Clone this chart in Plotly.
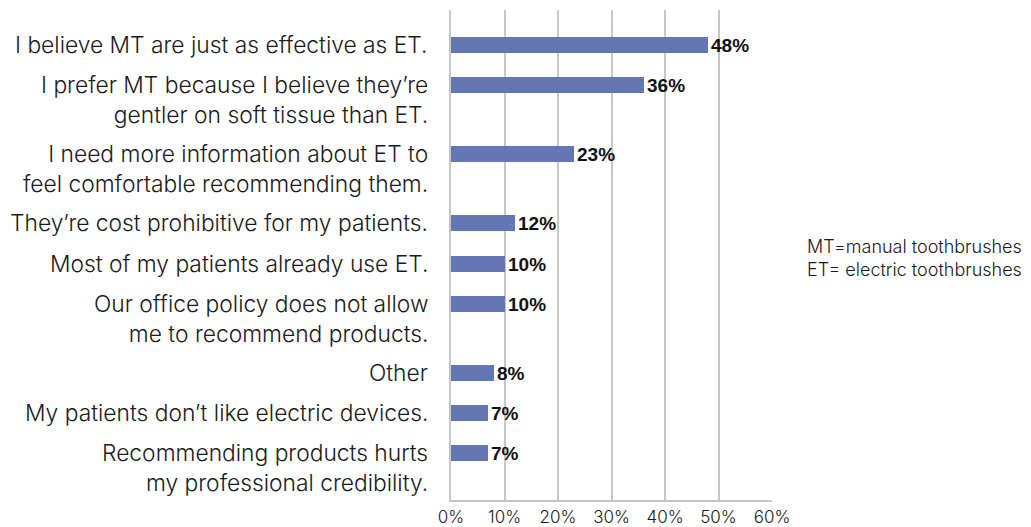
import plotly.graph_objects as go

# Survey responses: reasons for not recommending electric toothbrushes
reasons = [
    "I believe MT are just as effective as ET.",
    "I prefer MT because I believe they’re<br>gentler on soft tissue than ET.",
    "I need more information about ET to<br>feel comfortable recommending them.",
    "They’re cost prohibitive for my patients.",
    "Most of my patients already use ET.",
    "Our office policy does not allow<br>me to recommend products.",
    "Other",
    "My patients don’t like electric devices.",
    "Recommending products hurts<br>my professional credibility.",
]
shares = [48, 36, 23, 12, 10, 10, 8, 7, 7]
x_ticks = [0, 10, 20, 30, 40, 50, 60]
note_lines = ["MT=manual toothbrushes", "ET= electric toothbrushes"]

BAR_COLOR = "#6476b4"
GRID_COLOR = "#c6c6c6"
LIGHT_FONT = "Inter"

# Each row's slot grows with the number of lines in its label
SLOT = 40
EXTRA_LINE = 29
rows = []
pos = 0
for i, r in enumerate(reasons):
    if i > 0:
        prev_lines = reasons[i - 1].count("<br>") + 1
        pos += SLOT + EXTRA_LINE * (prev_lines - 1)
    rows.append(pos)

fig = go.Figure(
    go.Bar(
        x=shares,
        y=rows,
        orientation="h",
        width=16,
        marker=dict(color=BAR_COLOR, line=dict(width=0)),
        text=[f"{v}%" for v in shares],
        textposition="outside",
        textfont=dict(family="Liberation Sans", size=19, color="#111111", weight="bold"),
        constraintext="none",
        cliponaxis=False,
        hoverinfo="skip",
    )
)

# Row labels, first line level with its bar
for r, y in zip(reasons, rows):
    fig.add_annotation(
        x=0, xref="paper", y=y, yref="y",
        xanchor="right", yanchor="top", align="right",
        xshift=-21, yshift=16,
        text=r, showarrow=False,
        font=dict(family=LIGHT_FONT, size=22.8, color="#1a1a1a", weight=300),
    )

fig.add_annotation(
    x=1.103, xref="paper", y=0.494, yref="paper",
    xanchor="left", yanchor="middle", align="left",
    text="<br>".join(note_lines), showarrow=False,
    font=dict(family=LIGHT_FONT, size=18, color="#1a1a1a", weight=300),
)

fig.update_layout(
    width=1031, height=527,
    margin=dict(l=451, r=259, t=10, b=27, autoexpand=False),
    paper_bgcolor="white", plot_bgcolor="white",
    showlegend=False,
    bargap=0,
)
fig.update_xaxes(
    range=[0, 60], tickvals=x_ticks, ticktext=[f"{t}%" for t in x_ticks],
    automargin=False,
    showgrid=True, gridcolor=GRID_COLOR, gridwidth=1.5,
    zeroline=False, showline=True, linecolor=GRID_COLOR, linewidth=1.5,
    mirror=False, ticks="", ticklen=0, ticklabelstandoff=1,
    tickfont=dict(family=LIGHT_FONT, size=17, color="#1a1a1a", weight=300),
)
fig.update_yaxes(
    range=[rows[-1] + 47, -35],
    automargin=False,
    showticklabels=False, showgrid=False, zeroline=False,
    showline=True, linecolor=GRID_COLOR, linewidth=1.5,
)

fig.write_html("out.html")
